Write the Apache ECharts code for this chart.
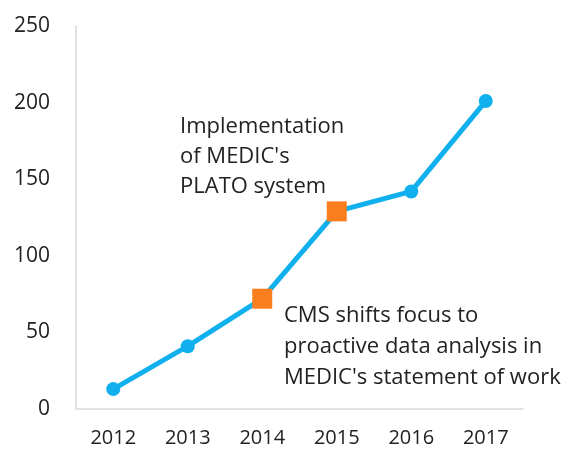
<!DOCTYPE html>
<html lang="en">
<head>
  <meta charset="UTF-8">
  <title>MEDIC timeline</title>
  <style>
    * { margin: 0; padding: 0; }
    body { background: #ffffff; }
    #main { width: 566px; height: 453px; }
  </style>
</head>
<body>
  <div id="main"></div>
  <script src="https://cdn.jsdelivr.net/npm/echarts@6/dist/echarts.min.js"></script>
  <script>
    // 数据
    const years = ['2012', '2013', '2014', '2015', '2016', '2017'];
    const counts = [13, 41, 72, 129, 142, 201];
    // 用方块标出的年份
    const milestoneYears = ['2014', '2015'];
    const notes = [
      "Implementation\nof MEDIC's\nPLATO system",
      "CMS shifts focus to\nproactive data analysis in\nMEDIC's statement of work"
    ];

    const font = 'Open Sans';
    const blue = '#10b0ee';
    const orange = '#fa7d1e';

    const points = counts.map((v, i) => {
      const isMilestone = milestoneYears.indexOf(years[i]) >= 0;
      return {
        value: v,
        symbol: isMilestone ? 'rect' : 'circle',
        symbolSize: isMilestone ? 20 : 14,
        itemStyle: { color: isMilestone ? orange : blue }
      };
    });

    const chart = echarts.init(document.getElementById('main'));
    chart.setOption({
      animation: false,
      grid: { left: 76, right: 43, top: 26, bottom: 44 },
      xAxis: {
        type: 'category',
        data: years,
        axisLine: { lineStyle: { color: '#d9d9d9', width: 1.5 } },
        axisTick: { show: false },
        axisLabel: { color: '#222', fontSize: 20, fontFamily: font, margin: 19 }
      },
      yAxis: {
        type: 'value',
        min: 0,
        max: 250,
        interval: 50,
        axisLine: { show: true, lineStyle: { color: '#d9d9d9', width: 1.5 } },
        axisTick: { show: false },
        splitLine: { show: false },
        axisLabel: { color: '#222', fontSize: 21, fontFamily: font, margin: 26 }
      },
      graphic: [
        {
          type: 'text', left: 180, top: 112,
          style: { text: notes[0], font: '22px "' + font + '"', fill: '#222', lineHeight: 30 }
        },
        {
          type: 'text', left: 284, top: 300,
          style: { text: notes[1], font: '22px "' + font + '"', fill: '#222', lineHeight: 31 }
        }
      ],
      series: [{
        type: 'line',
        data: points,
        lineStyle: { color: blue, width: 5 },
        z: 3
      }]
    });
  </script>
</body>
</html>
